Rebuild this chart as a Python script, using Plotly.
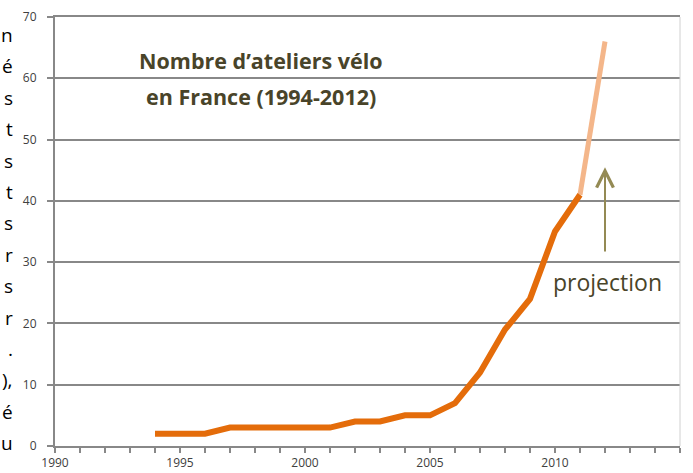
import plotly.graph_objects as go

# Nombre d'ateliers vélo en France
years = [1994, 1995, 1996, 1997, 1998, 1999, 2000, 2001, 2002,
         2003, 2004, 2005, 2006, 2007, 2008, 2009, 2010, 2011]
ateliers = [2, 2, 2, 3, 3, 3, 3, 3, 4, 4, 5, 5, 7, 12, 19, 24, 35, 41]

proj_years = [2011, 2012]
proj_ateliers = [41, 66]

title_lines = ["Nombre d’ateliers vélo", "en France (1994-2012)"]

# fins de lignes visibles de la colonne de texte coupée à gauche
left_text = ["n", "é", "s", "t", "s", "t", "s", "r", "s", "r", ".", "),", "é", "u"]

olive = "#948A54"
dark = "#494429"
grid = "#888888"
font = "Open Sans"

fig = go.Figure()

fig.add_trace(go.Scatter(
    x = proj_years,
    y = proj_ateliers,
    mode = "lines",
    line = dict(color="#F4B68A", width=5),
    hoverinfo = "skip"
))

fig.add_trace(go.Scatter(
    x = years,
    y = ateliers,
    mode = "lines",
    line = dict(color="#E46C0A", width=6)
))

annotations = []

# titre, deux lignes
annotations.append(dict(x=0.330, y=0.899, xref="paper", yref="paper",
                        xanchor="center", yanchor="middle",
                        text="<b>" + title_lines[0] + "</b>", showarrow=False,
                        font=dict(family=font, size=21.5, color=dark)))
annotations.append(dict(x=0.330, y=0.815, xref="paper", yref="paper",
                        xanchor="center", yanchor="middle",
                        text="<b>" + title_lines[1] + "</b>", showarrow=False,
                        font=dict(family=font, size=21.5, color=dark)))

# flèche + projection
annotations.append(dict(x=2012, y=45.5, ax=2012, ay=31.5, xref="x", yref="y",
                        axref="x", ayref="y", text="", showarrow=True,
                        arrowhead=5, arrowsize=1.65, arrowwidth=2, arrowcolor=olive))
annotations.append(dict(x=2012.1, y=26.8, xref="x", yref="y", text="projection",
                        xanchor="center", yanchor="middle", showarrow=False,
                        font=dict(family=font, size=23, color=dark)))

for i, t in enumerate(left_text):
    ypx = 35 + 31.4 * i
    annotations.append(dict(x=-0.064, y=(446 - ypx) / 429, xref="paper", yref="paper",
                            text=t, showarrow=False, xanchor="right", yanchor="middle",
                            font=dict(family=font, size=19, color="#000000")))

fig.update_layout(
    width = 693,
    height = 473,
    margin = dict(l=55, r=13, t=17, b=27),
    paper_bgcolor = "white",
    plot_bgcolor = "white",
    showlegend = False,
    annotations = annotations,
    xaxis = dict(
        range = [1990, 2015],
        tickvals = [1990, 1995, 2000, 2005, 2010, 2015],
        ticks = "outside",
        ticklen = 5,
        tickcolor = grid,
        tickwidth = 1.5,
        minor = dict(dtick=1, ticks="outside", ticklen=5, tickcolor=grid, tickwidth=1.5),
        showgrid = False,
        zeroline = False,
        showline = True,
        mirror = True,
        linecolor = grid,
        linewidth = 2,
        automargin = False,
        tickfont = dict(family=font, size=12, color="#404040")
    ),
    yaxis = dict(
        range = [0, 70],
        dtick = 10,
        ticks = "outside",
        ticklen = 6,
        tickcolor = grid,
        tickwidth = 1.5,
        ticklabelstandoff = 8,
        showgrid = True,
        gridcolor = grid,
        gridwidth = 1.5,
        zeroline = False,
        showline = True,
        linecolor = grid,
        linewidth = 2,
        automargin = False,
        tickfont = dict(family=font, size=12, color="#404040")
    ),
    shapes = [dict(type="line", xref="paper", yref="paper", x0=1, x1=1, y0=0, y1=1,
                   line=dict(color="#D0D0D0", width=1))]
)

# pas de marge autour du graphique dans la page
fig.write_html("out.html", config={"displayModeBar": False},
               post_script="document.body.style.margin = '0';")
